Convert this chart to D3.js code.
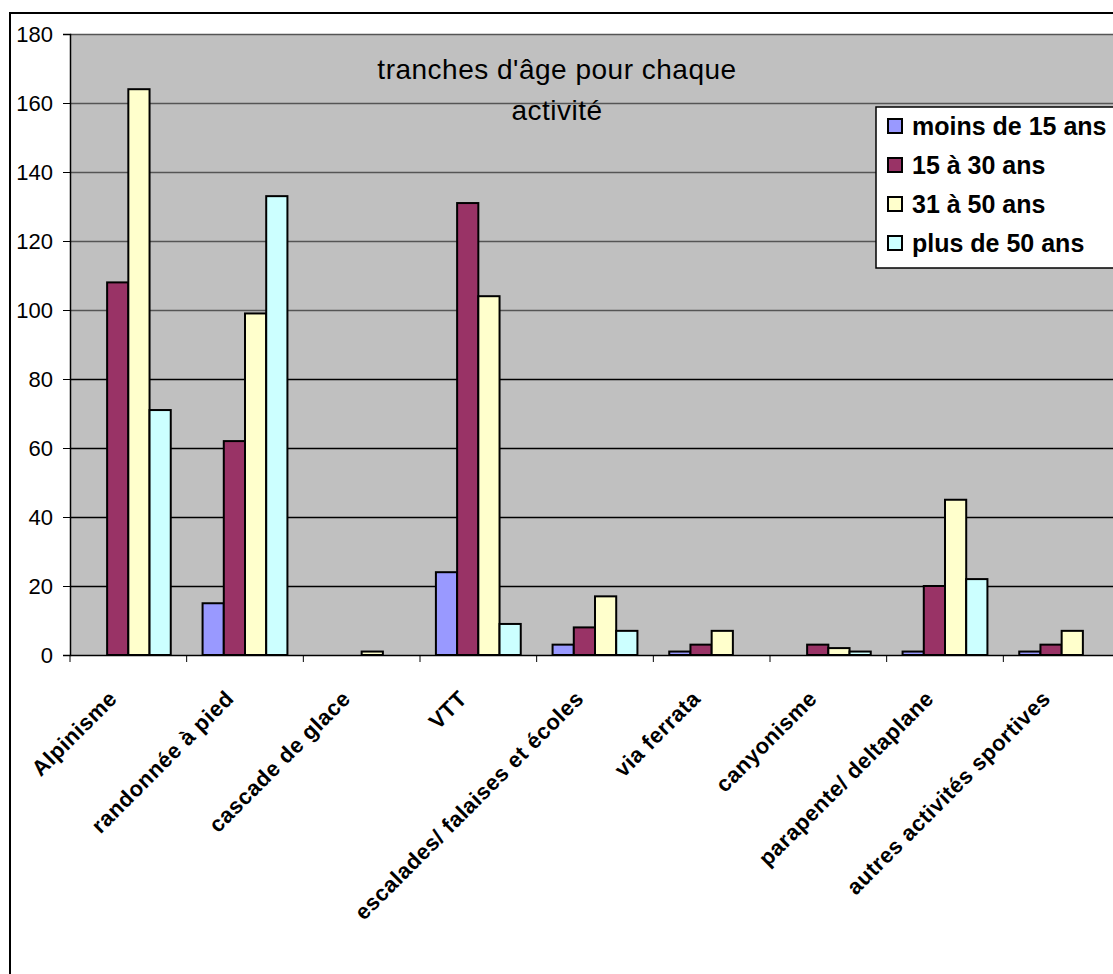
<!DOCTYPE html>
<html>
<head>
<meta charset="utf-8">
<script src="https://cdn.jsdelivr.net/npm/d3@7"></script>
<style>
	body { margin: 0; background: #fff; }
	text { font-family: Arial, "Liberation Sans", sans-serif; }
</style>
</head>
<body>
<div id="svg_container"></div>
<script>

/* -----------------------
data
------------------------- */

var categories = ["Alpinisme", "randonnée à pied", "cascade de glace", "VTT",
	"escalades/ falaises et écoles", "via ferrata", "canyonisme",
	"parapente/ deltaplane", "autres activités sportives"];

var seriesNames = ["moins de 15 ans", "15 à 30 ans", "31 à 50 ans", "plus de 50 ans"];

var moins15 = [0, 15, 0, 24, 3, 1, 0, 1, 1];
var de15a30 = [108, 62, 0, 131, 8, 3, 3, 20, 3];
var de31a50 = [164, 99, 1, 104, 17, 7, 2, 45, 7];
var plus50  = [71, 133, 0, 9, 7, 0, 1, 22, 0];

var yTicks = [0, 20, 40, 60, 80, 100, 120, 140, 160, 180];

/* -----------------------
main variables
------------------------- */

var width = 1113;
var height = 974;

var plotLeft = 70, plotRight = 1120, plotTop = 34, plotBottom = 655;

var colors = ["#9999ff", "#993366", "#ffffcc", "#ccffff"];

var series = [moins15, de15a30, de31a50, plus50];

var svg = d3.select("#svg_container")
	.append("svg")
	.attr("width", width)
	.attr("height", height)

svg.append("rect")
	.attr("x", 10)
	.attr("y", 13)
	.attr("width", width + 20)
	.attr("height", height + 20)
	.attr("fill", "#fff")
	.attr("stroke", "#000")
	.attr("stroke-width", 2)

/* -----------------------
scales
------------------------- */

var x = d3.scaleBand()
	.domain(categories)
	.range([plotLeft, plotRight])

var xInner = d3.scaleBand()
	.domain(d3.range(seriesNames.length))
	.range([0, x.bandwidth()])
	.paddingInner(0)
	.paddingOuter(0.75)

var y = d3.scaleLinear()
	.domain([0, 180])
	.range([plotBottom, plotTop])

/* -----------------------
plot area
------------------------- */

svg.append("rect")
	.attr("x", plotLeft)
	.attr("y", plotTop)
	.attr("width", plotRight - plotLeft)
	.attr("height", plotBottom - plotTop)
	.attr("fill", "#c0c0c0")

svg.selectAll(".grid")
	.data(yTicks.slice(1))
	.enter()
	.append("line")
	.attr("class", "grid")
	.attr("x1", plotLeft)
	.attr("x2", plotRight)
	.attr("y1", function (d) { return y(d) + 0.5 })
	.attr("y2", function (d) { return y(d) + 0.5 })
	.attr("stroke", function (d) { return d >= 100 ? "#555" : "#000" })
	.attr("stroke-width", 1.5)

/* -----------------------
bars
------------------------- */

var bars = [];
series.forEach(function (s, si) {
	s.forEach(function (v, ci) {
		if (v > 0) bars.push({cat: categories[ci], s: si, v: v});
	});
});

svg.selectAll(".bar")
	.data(bars)
	.enter()
	.append("rect")
	.attr("class", "bar")
	.attr("x", function (d) { return x(d.cat) + xInner(d.s) })
	.attr("y", function (d) { return y(d.v) })
	.attr("width", xInner.bandwidth())
	.attr("height", function (d) { return y(0) - y(d.v) })
	.attr("fill", function (d) { return colors[d.s] })
	.attr("stroke", "#000")
	.attr("stroke-width", 2)

/* -----------------------
axes
------------------------- */

var yAxis = svg.append("g")
	.attr("transform", "translate(" + plotLeft + ",0)")
	.call(d3.axisLeft(y).tickValues(yTicks).tickSize(7).tickPadding(10))

yAxis.selectAll("text")
	.attr("font-size", 22)
	.attr("fill", "#000")

var xAxis = svg.append("g")
	.attr("transform", "translate(0," + plotBottom + ")")
	.call(d3.axisBottom(x).tickSize(0).tickFormat(""))

xAxis.selectAll(".tick").remove();

xAxis.selectAll(".sep")
	.data(d3.range(categories.length + 1))
	.enter()
	.append("line")
	.attr("class", "sep")
	.attr("x1", function (i) { return plotLeft + i * x.step() })
	.attr("x2", function (i) { return plotLeft + i * x.step() })
	.attr("y1", 0)
	.attr("y2", 7)
	.attr("stroke", "#000")

svg.selectAll("path.domain")
	.attr("stroke", "#000")
	.attr("stroke-width", 1.5)

svg.selectAll(".catLabel")
	.data(categories)
	.enter()
	.append("text")
	.attr("class", "catLabel")
	.attr("text-anchor", "end")
	.attr("font-size", 22)
	.attr("font-weight", "bold")
	.attr("letter-spacing", 0.5)
	.attr("transform", function (d) {
		return "translate(" + (x(d) + x.bandwidth() / 2 - 10) + "," + (plotBottom + 45) + ") rotate(-45)"
	})
	.text(function (d) { return d })

/* -----------------------
title
------------------------- */

svg.append("text")
	.attr("x", 557)
	.attr("y", 79)
	.attr("text-anchor", "middle")
	.attr("font-size", 28)
	.attr("letter-spacing", 0.5)
	.text("tranches d'âge pour chaque")

svg.append("text")
	.attr("x", 557)
	.attr("y", 120)
	.attr("text-anchor", "middle")
	.attr("font-size", 28)
	.attr("letter-spacing", 0.5)
	.text("activité")

/* -----------------------
legend
------------------------- */

var legend = svg.append("g")
	.attr("transform", "translate(876,107)")

legend.append("rect")
	.attr("width", 280)
	.attr("height", 161)
	.attr("fill", "#fff")
	.attr("stroke", "#000")
	.attr("stroke-width", 1.5)

var item = legend.selectAll(".item")
	.data(seriesNames)
	.enter()
	.append("g")
	.attr("class", "item")
	.attr("transform", function (d, i) { return "translate(0," + (19 + i * 39) + ")" })

item.append("rect")
	.attr("x", 12)
	.attr("y", -7)
	.attr("width", 14)
	.attr("height", 14)
	.attr("fill", function (d, i) { return colors[i] })
	.attr("stroke", "#000")
	.attr("stroke-width", 2)

item.append("text")
	.attr("x", 36)
	.attr("dy", ".36em")
	.attr("font-size", 25)
	.attr("font-weight", "bold")
	.text(function (d) { return d })

</script>
</body>
</html>
